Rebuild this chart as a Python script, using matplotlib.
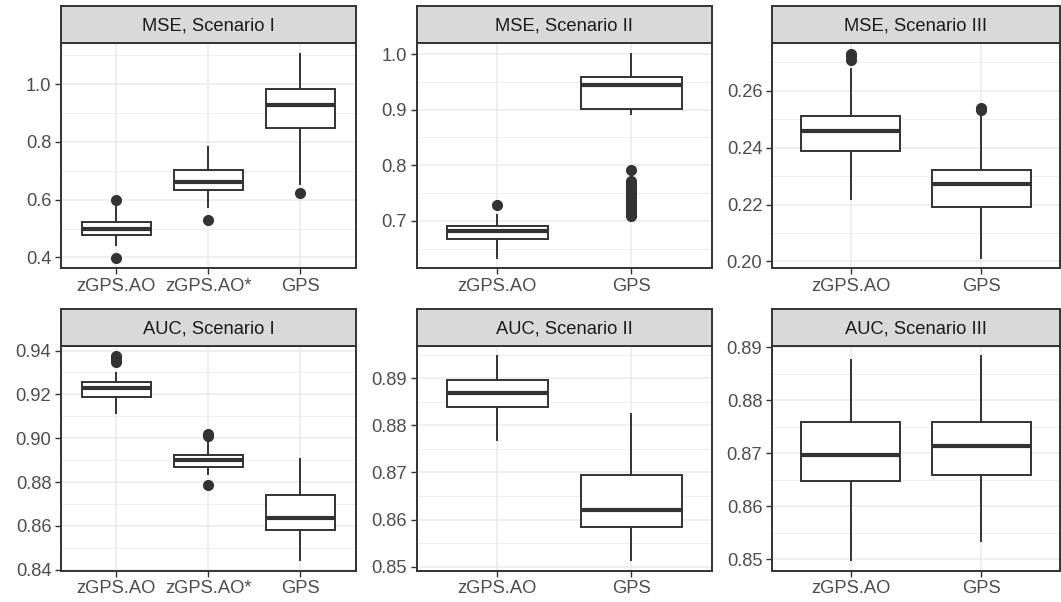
import matplotlib
matplotlib.use("Agg")
import matplotlib.pyplot as plt
from matplotlib.ticker import MultipleLocator, FormatStrFormatter

plt.rcParams['font.family'] = ['Liberation Sans', 'DejaVu Sans']

# ---------------- data ----------------
titles = ["MSE, Scenario I", "MSE, Scenario II", "MSE, Scenario III",
          "AUC, Scenario I", "AUC, Scenario II", "AUC, Scenario III"]
methods3 = ["zGPS.AO", "zGPS.AO*", "GPS"]
methods2 = ["zGPS.AO", "GPS"]

mse1_q1 = [0.477, 0.635, 0.849]
mse1_med = [0.498, 0.663, 0.927]
mse1_q3 = [0.524, 0.702, 0.983]
mse1_lo = [0.444, 0.574, 0.653]
mse1_hi = [0.576, 0.782, 1.106]
mse1_out = [[0.398, 0.598], [0.529], [0.622]]

mse2_q1 = [0.667, 0.901]
mse2_med = [0.681, 0.945]
mse2_q3 = [0.6915, 0.958]
mse2_lo = [0.633, 0.893]
mse2_hi = [0.7096, 1.001]
mse2_out = [[0.728],
            [0.791, 0.771, 0.767, 0.764, 0.760, 0.757, 0.753, 0.750, 0.747,
             0.743, 0.740, 0.736, 0.733, 0.729, 0.726, 0.722, 0.719, 0.716,
             0.712, 0.709]]

mse3_q1 = [0.2387, 0.2192]
mse3_med = [0.2457, 0.2272]
mse3_q3 = [0.2512, 0.2320]
mse3_lo = [0.2218, 0.2012]
mse3_hi = [0.2677, 0.2513]
mse3_out = [[0.2709, 0.2722, 0.2730], [0.2532, 0.2538]]

auc1_q1 = [0.9189, 0.8869, 0.8582]
auc1_med = [0.9227, 0.8899, 0.8636]
auc1_q3 = [0.9256, 0.8925, 0.8742]
auc1_lo = [0.9116, 0.8836, 0.8442]
auc1_hi = [0.9298, 0.8988, 0.8906]
auc1_out = [[0.9347, 0.9360, 0.9374], [0.9012, 0.9018, 0.8786], []]

auc2_q1 = [0.8839, 0.8584]
auc2_med = [0.8868, 0.8620]
auc2_q3 = [0.8897, 0.8694]
auc2_lo = [0.8768, 0.8513]
auc2_hi = [0.8947, 0.8825]
auc2_out = [[], []]

auc3_q1 = [0.8648, 0.8659]
auc3_med = [0.8697, 0.8714]
auc3_q3 = [0.8759, 0.8759]
auc3_lo = [0.8498, 0.8534]
auc3_hi = [0.8875, 0.8883]
auc3_out = [[], []]

panels = [
    (methods3, mse1_q1, mse1_med, mse1_q3, mse1_lo, mse1_hi, mse1_out),
    (methods2, mse2_q1, mse2_med, mse2_q3, mse2_lo, mse2_hi, mse2_out),
    (methods2, mse3_q1, mse3_med, mse3_q3, mse3_lo, mse3_hi, mse3_out),
    (methods3, auc1_q1, auc1_med, auc1_q3, auc1_lo, auc1_hi, auc1_out),
    (methods2, auc2_q1, auc2_med, auc2_q3, auc2_lo, auc2_hi, auc2_out),
    (methods2, auc3_q1, auc3_med, auc3_q3, auc3_lo, auc3_hi, auc3_out),
]
major_steps = [0.2, 0.1, 0.02, 0.02, 0.01, 0.01]
fmts = ["%.1f", "%.1f", "%.2f", "%.2f", "%.2f", "%.2f"]

# ---------------- layout ----------------
W, H = 1061, 602
fig = plt.figure(figsize=(W / 100, H / 100), dpi=100)
fig.patch.set_facecolor("white")

cols = [(61, 355.7), (416.7, 712), (772, 1060)]
rows = [(6, 43.3, 268.3), (309, 346, 570.7)]

dark = "#333333"
FS = 13.2


def px_axes(x0, x1, ytop, ybot):
    return fig.add_axes([x0 / W, 1 - ybot / H, (x1 - x0) / W, (ybot - ytop) / H])


for i, (title, pdata, step, fmt) in enumerate(zip(titles, panels, major_steps, fmts)):
    r, c = divmod(i, 3)
    x0, x1 = cols[c]
    stop, sbot, pbot = rows[r]
    methods, q1, med, q3, lo, hi, out = pdata
    n = len(methods)

    ax = px_axes(x0, x1, sbot, pbot)
    stats = []
    for k in range(n):
        stats.append(dict(med=med[k], q1=q1[k], q3=q3[k], whislo=lo[k],
                          whishi=hi[k], fliers=out[k], label=methods[k]))
    pos = list(range(1, n + 1))
    ax.bxp(stats, positions=pos, widths=0.75, patch_artist=True, showcaps=False,
           boxprops=dict(facecolor="white", edgecolor=dark, linewidth=1.4),
           whiskerprops=dict(color=dark, linewidth=1.4),
           medianprops=dict(color=dark, linewidth=3.0, solid_capstyle="butt"),
           flierprops=dict(marker="o", markerfacecolor=dark, markeredgecolor=dark,
                           markersize=7, linestyle="none"))

    allv = lo + hi + [v for o in out for v in o]
    vmin, vmax = min(allv), max(allv)
    rng = vmax - vmin
    ax.set_ylim(vmin - 0.05 * rng, vmax + 0.05 * rng)
    ax.set_xlim(0.4, n + 0.6)
    ax.set_xticks(pos)
    ax.set_xticklabels(methods)

    ax.yaxis.set_major_locator(MultipleLocator(step))
    ax.yaxis.set_minor_locator(MultipleLocator(step / 2))
    ax.yaxis.set_major_formatter(FormatStrFormatter(fmt))

    ax.set_axisbelow(True)
    ax.grid(which="major", color="#EBEBEB", linewidth=1.1)
    ax.grid(which="minor", axis="y", color="#EBEBEB", linewidth=0.55)
    ax.tick_params(which="major", length=4.5, width=1.0, color=dark,
                   labelcolor="#4D4D4D", labelsize=FS, pad=2.5)
    ax.tick_params(which="minor", length=0)
    for sp in ax.spines.values():
        sp.set_color(dark)
        sp.set_linewidth(1.4)

    sax = px_axes(x0, x1, stop, sbot)
    sax.set_facecolor("#D9D9D9")
    sax.set_xticks([])
    sax.set_yticks([])
    for sp in sax.spines.values():
        sp.set_color(dark)
        sp.set_linewidth(1.4)
    sax.text(0.5, 0.47, title, ha="center", va="center", fontsize=FS,
             color="#1A1A1A", transform=sax.transAxes)

fig.savefig("out.png", dpi=100)
